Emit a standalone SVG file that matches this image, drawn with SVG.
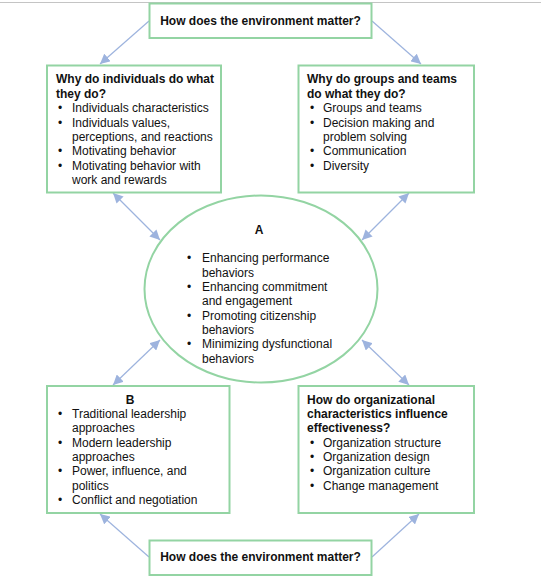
<svg xmlns="http://www.w3.org/2000/svg" width="541" height="577" viewBox="0 0 541 577">
<style>
.box{fill:#fff;stroke:#93d4a3;stroke-width:2}
.conn{stroke:#9db3de;stroke-width:1.2;fill:none}
text{font-family:"Liberation Sans",Arial,sans-serif;font-size:12px;fill:#111}
.b{font-weight:bold}
.c{text-anchor:middle}
</style>
<defs>
<marker id="ah" viewBox="0 0 10 10" refX="10" refY="5" markerWidth="10" markerHeight="10" markerUnits="userSpaceOnUse" orient="auto-start-reverse">
<path d="M0,0 L10,5 L0,10 z" fill="#9db3de"/>
</marker>
</defs>
<rect width="541" height="577" fill="#fff"/>
<line x1="0" y1="2.5" x2="541" y2="2.5" stroke="#c4c4c4" stroke-width="1.2"/>
<g id="connectors">
<line class="conn" x1="149" y1="21" x2="100" y2="64" marker-end="url(#ah)"/>
<line class="conn" x1="372" y1="21" x2="421" y2="64" marker-end="url(#ah)"/>
<line class="conn" x1="113" y1="193" x2="160" y2="240" marker-start="url(#ah)" marker-end="url(#ah)"/>
<line class="conn" x1="409" y1="193" x2="362" y2="240" marker-start="url(#ah)" marker-end="url(#ah)"/>
<line class="conn" x1="160" y1="340" x2="113" y2="385" marker-start="url(#ah)" marker-end="url(#ah)"/>
<line class="conn" x1="362" y1="340" x2="409" y2="385" marker-start="url(#ah)" marker-end="url(#ah)"/>
<line class="conn" x1="149" y1="557" x2="100" y2="514" marker-end="url(#ah)"/>
<line class="conn" x1="372" y1="557" x2="419" y2="514" marker-end="url(#ah)"/>
</g>
<g id="env-top">
<rect class="box" x="149.5" y="3.5" width="222" height="34.5"/>
<text class="b c" x="260.5" y="24.5">How does the environment matter?</text>
</g>
<g id="individuals">
<rect class="box" x="47" y="65.5" width="174" height="127"/>
<text class="b" x="56" y="83">Why do individuals do what</text>
<text class="b" x="56" y="97.5">they do?</text>
<text x="58" y="112">•</text><text x="72" y="112">Individuals characteristics</text>
<text x="58" y="126.5">•</text><text x="72" y="126.5">Individuals values,</text>
<text x="72" y="141">perceptions, and reactions</text>
<text x="58" y="155">•</text><text x="72" y="155">Motivating behavior</text>
<text x="58" y="169.5">•</text><text x="72" y="169.5">Motivating behavior with</text>
<text x="72" y="184">work and rewards</text>
</g>
<g id="groups">
<rect class="box" x="298.5" y="65.5" width="175.5" height="127"/>
<text class="b" x="307" y="83">Why do groups and teams</text>
<text class="b" x="307" y="97.5">do what they do?</text>
<text x="310" y="112">•</text><text x="323" y="112">Groups and teams</text>
<text x="310" y="126.5">•</text><text x="323" y="126.5">Decision making and</text>
<text x="323" y="141">problem solving</text>
<text x="310" y="155">•</text><text x="323" y="155">Communication</text>
<text x="310" y="169.5">•</text><text x="323" y="169.5">Diversity</text>
</g>
<g id="A">
<ellipse cx="261" cy="289" rx="116.5" ry="93.5" fill="#fff" stroke="#93d4a3" stroke-width="2"/>
<text class="b c" x="259" y="233.5">A</text>
<text x="187" y="262">•</text><text x="202" y="262">Enhancing performance</text>
<text x="202" y="276.5">behaviors</text>
<text x="187" y="290.5">•</text><text x="202" y="290.5">Enhancing commitment</text>
<text x="202" y="305">and engagement</text>
<text x="187" y="319.5">•</text><text x="202" y="319.5">Promoting citizenship</text>
<text x="202" y="333.5">behaviors</text>
<text x="187" y="348">•</text><text x="202" y="348">Minimizing dysfunctional</text>
<text x="202" y="362.5">behaviors</text>
</g>
<g id="B">
<rect class="box" x="47" y="386" width="182.5" height="127"/>
<text class="b c" x="130" y="403.5">B</text>
<text x="58" y="418">•</text><text x="72" y="418">Traditional leadership</text>
<text x="72" y="432">approaches</text>
<text x="58" y="446.5">•</text><text x="72" y="446.5">Modern leadership</text>
<text x="72" y="461">approaches</text>
<text x="58" y="475">•</text><text x="72" y="475">Power, influence, and</text>
<text x="72" y="489.5">politics</text>
<text x="58" y="504">•</text><text x="72" y="504">Conflict and negotiation</text>
</g>
<g id="organizational">
<rect class="box" x="298.5" y="386" width="175.5" height="127"/>
<text class="b" x="307" y="403.5">How do organizational</text>
<text class="b" x="307" y="418">characteristics influence</text>
<text class="b" x="307" y="432">effectiveness?</text>
<text x="310" y="446.5">•</text><text x="323" y="446.5">Organization structure</text>
<text x="310" y="461">•</text><text x="323" y="461">Organization design</text>
<text x="310" y="475">•</text><text x="323" y="475">Organization culture</text>
<text x="310" y="489.5">•</text><text x="323" y="489.5">Change management</text>
</g>
<g id="env-bottom">
<rect class="box" x="149.5" y="540.5" width="222" height="34.5"/>
<text class="b c" x="260.5" y="561">How does the environment matter?</text>
</g>
</svg>
